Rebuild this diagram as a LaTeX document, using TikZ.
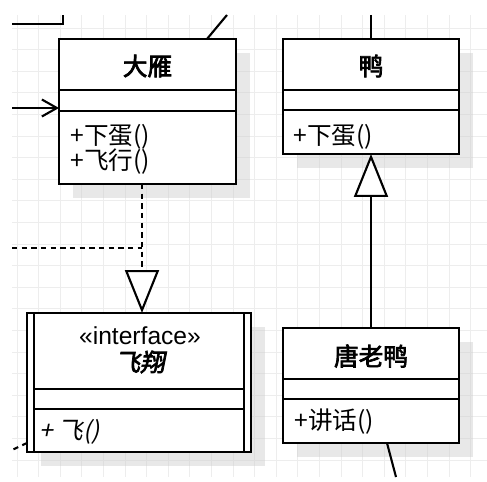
\documentclass[tikz,border=0pt]{standalone}
\usepackage{fontspec}
\setmainfont{Noto Sans CJK SC}[AutoFakeBold=3, AutoFakeSlant=0.2]
\newfontfamily\latinfont{Liberation Sans}
\usetikzlibrary{arrows.meta,shadows}

\begin{document}
\begin{tikzpicture}[x=0.02cm, y=-0.02cm,
    classbox/.style={draw, fill=white, line width=1.2pt, inner sep=0pt, outer sep=0pt,
        drop shadow={shadow xshift=0.28cm, shadow yshift=-0.28cm, fill=black!18, opacity=0.5}},
    classname/.style={font=\fontsize{14}{16}\selectfont\bfseries},
    member/.style={anchor=west, inner sep=0pt, font=\fontsize{14}{16}\selectfont},
    divider/.style={line width=1.2pt},
    link/.style={line width=1.2pt},
    realize/.style={link, dash pattern=on 3pt off 2.5pt},
    inherit/.style={-{Triangle[open, fill=white, length=0.86cm, width=0.68cm]}},
    gridline/.style={black!7, line width=0.5pt}
]

\useasboundingbox (0,0) rectangle (487,482);
\foreach \gx in {17,38.6,...,487} \draw[gridline] (\gx,15) -- (\gx,477);
\foreach \gy in {28,49.6,...,477} \draw[gridline] (12,\gy) -- (487,\gy);

\node[classbox, minimum width=3.54cm, minimum height=2.9cm] (dayan) at (147.5,111.5) {};
\node[classbox, minimum width=3.52cm, minimum height=2.3cm] (duck) at (371,96.5) {};
\node[classbox, minimum width=3.52cm, minimum height=2.3cm] (tang) at (371,385.5) {};
\node[classbox, minimum width=4.48cm, minimum height=2.78cm] (feixiang) at (139,382.5) {};

\draw[divider] (dayan.west |- 0,90) -- (dayan.east |- 0,90);
\draw[divider] (dayan.west |- 0,111) -- (dayan.east |- 0,111);
\draw[divider] (duck.west |- 0,90) -- (duck.east |- 0,90);
\draw[divider] (duck.west |- 0,110) -- (duck.east |- 0,110);
\draw[divider] (tang.west |- 0,379) -- (tang.east |- 0,379);
\draw[divider] (tang.west |- 0,399) -- (tang.east |- 0,399);
\draw[divider] ([xshift=0.14cm]feixiang.north west) -- ([xshift=0.14cm]feixiang.south west);
\draw[divider] ([xshift=-0.14cm]feixiang.north east) -- ([xshift=-0.14cm]feixiang.south east);
\draw[divider] (34,389) -- (244,389);
\draw[divider] (34,409) -- (244,409);

\node[classname] (dayantitle) at (147.5,66) {大雁};
\node[member] (dayanlay) at (70,137) {+下蛋()};
\node[member] (dayanfly) at (70,162) {+飞行()};

\node[classname] (ducktitle) at (371,66) {鸭};
\node[member] (ducklay) at (293,137) {+下蛋()};

\node[classname] (tangtitle) at (371,356) {唐老鸭};
\node[member] (tangtalk) at (294,422) {+讲话()};

\node[member, anchor=center, font=\fontsize{14}{16}\selectfont\latinfont] (stereo) at (140,336) {«interface»};
\node[classname, font=\fontsize{14}{16}\selectfont\bfseries\itshape] (feixiangtitle) at (140,362) {飞翔};
\node[member, font=\fontsize{14}{16}\selectfont\itshape] (feixiangfly) at (39,432) {+ 飞()};

\coordinate (duckfree) at (371,15);
\coordinate (dayanfree) at (227,15);
\coordinate (cornerA) at (12,24);
\coordinate (cornerB) at (63,15);
\coordinate (arrowfree) at (12,108);
\coordinate (leftfree) at (12,248);
\coordinate (dashjoin) at (142,248);
\coordinate (feifree) at (12,450);
\coordinate (tangfree) at (396,477);

\draw[link] (duckfree) -- (duck.north);
\draw[link, inherit] (tang.north) -- (duck.south);
\draw[realize, inherit] ([xshift=-0.11cm]dayan.south) -- ([xshift=-0.11cm]dayan.south |- feixiang.north);
\draw[realize] (leftfree) -- (dashjoin);
\draw[link, -{Straight Barb[length=0.3cm, width=0.34cm]}] (arrowfree) -- (arrowfree -| dayan.west);
\draw[link] (cornerA) -| (cornerB);
\draw[link] ([xshift=1.19cm]dayan.north) -- (dayanfree);
\draw[link] ([xshift=0.32cm]tang.south) -- (tangfree);
\draw[realize] ([yshift=0.18cm]feixiang.south west) -- (feifree);

\end{tikzpicture}
\end{document}
